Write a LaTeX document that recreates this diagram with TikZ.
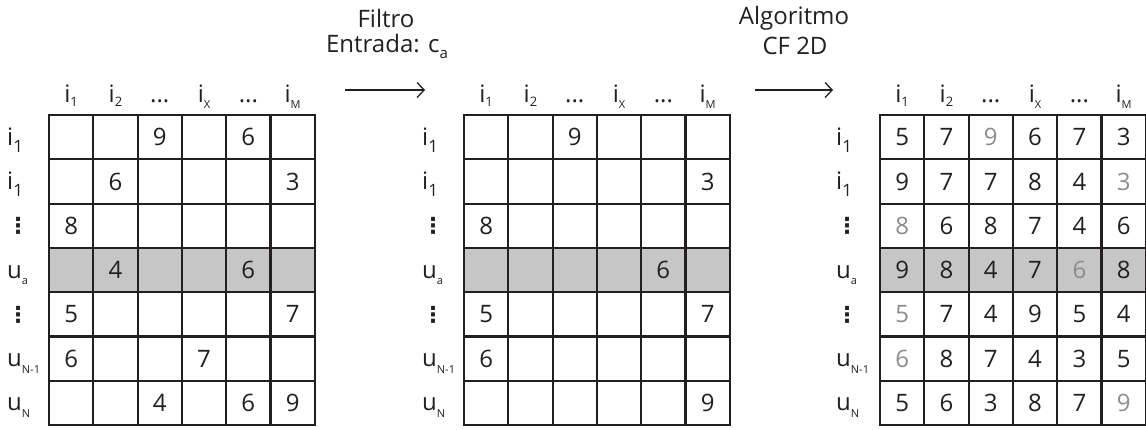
\documentclass[tikz,border=0pt]{standalone}
\usepackage{fontspec}
\setmainfont{Open Sans}
\newfontfamily\symf{DejaVu Sans}
\usetikzlibrary{arrows.meta}
\newcommand{\rsub}[1]{\raisebox{-0.3em}{\fontsize{17}{17}\selectfont #1}}
\newcommand{\lsub}[1]{\raisebox{-0.2em}{\fontsize{13}{13}\selectfont #1}}
\newcommand{\ssub}[1]{\raisebox{-0.28em}{\fontsize{11}{11}\selectfont #1}}
\newcommand{\vdts}{{\symf\bfseries\fontsize{22}{22}\selectfont ⋮}}
\definecolor{gridc}{HTML}{231F20}
\definecolor{rowfill}{HTML}{C6C6C6}
\definecolor{softnum}{HTML}{8C8C8C}
\tikzset{
  every node/.style={font=\fontsize{24}{28}\selectfont, text=gridc},
  cell/.style={draw=gridc, line width=2.2pt, minimum width=44.3pt, minimum height=44.3pt, inner sep=0pt, anchor=center},
  hl/.style={fill=rowfill},
  soft/.style={text=softnum},
  lbl/.style={anchor=base west, inner sep=0pt},
  hdr/.style={anchor=base, inner sep=0pt},
  flow/.style={draw=gridc, line width=1.3pt, -{Straight Barb[length=7pt,width=15pt,line width=1.3pt]}},
  captext/.style={anchor=center, inner sep=0pt}
}
\begin{document}
\begin{tikzpicture}[x=1pt,y=-1pt]
\useasboundingbox (0,0) rectangle (1146,429);
\def\cw{44.3}
% grids: name / x0
\foreach \g/\xo in {A/49,B/464,C/880}{
  \foreach \r in {1,...,7}{
    \foreach \c in {1,...,6}{
      \pgfmathsetmacro\xc{\xo+(\c-0.5)*\cw}
      \pgfmathsetmacro\yc{115+(\r-0.5)*\cw}
      \ifnum\r=4
        \node[cell,hl] (\g-\r-\c) at (\xc,\yc) {};
      \else
        \node[cell] (\g-\r-\c) at (\xc,\yc) {};
      \fi
    }
  }
  % column headers
  \foreach \c/\t in {1/{i\lsub{1}},2/{i\lsub{2}},3/{...},4/{i\ssub{X}},5/{...},6/{i\ssub{M}}}{
    \pgfmathsetmacro\xc{\xo+(\c-0.5)*\cw}
    \node[hdr] (\g-h\c) at (\xc,102) {\t};
  }
}
% row labels
\foreach \g/\xo in {A/7,B/422,C/836}{
  \foreach \r/\t in {1/{i\rsub{1}},2/{i\rsub{1}},3/{\vdts},4/{u\ssub{a}},5/{\vdts},6/{u\ssub{N-1}},7/{u\ssub{N}}}{
    \pgfmathsetmacro\yc{115+(\r-0.5)*\cw+8}
    \node[lbl] (\g-l\r) at (\xo,\yc) {\t};
  }
}
% values grid A
\foreach \r/\c/\v in {1/3/9,1/5/6,2/2/6,2/6/3,3/1/8,4/2/4,4/5/6,5/1/5,5/6/7,6/1/6,6/4/7,7/3/4,7/5/6,7/6/9}{
  \node at (A-\r-\c) {\v};
}
% values grid B
\foreach \r/\c/\v in {1/3/9,2/6/3,3/1/8,4/5/6,5/1/5,5/6/7,6/1/6,7/6/9}{
  \node at (B-\r-\c) {\v};
}
% values grid C
\foreach \r/\c/\v in {1/1/5,1/2/7,1/4/6,1/5/7,1/6/3,
  2/1/9,2/2/7,2/3/7,2/4/8,2/5/4,
  3/2/6,3/3/8,3/4/7,3/5/4,3/6/6,
  4/1/9,4/2/8,4/3/4,4/4/7,4/6/8,
  5/2/7,5/3/4,5/4/9,5/5/5,5/6/4,
  6/2/8,6/3/7,6/4/4,6/5/3,6/6/5,
  7/1/5,7/2/6,7/3/3,7/4/8,7/5/7}{
  \node at (C-\r-\c) {\v};
}
\foreach \r/\c/\v in {1/3/9,2/6/3,3/1/8,4/5/6,5/1/5,6/1/6,7/6/9}{
  \node[soft] at (C-\r-\c) {\v};
}
% arrows and captions
\coordinate (a1s) at (345,90);
\coordinate (a1e) at (425,90);
\coordinate (a2s) at (755,90);
\coordinate (a2e) at (833,90);
\draw[flow] (a1s) -- (a1e);
\draw[flow] (a2s) -- (a2e);
\node[captext] (f1) at (386,18) {Filtro};
\node[captext] (f2) at (387,46) {Entrada: c\raisebox{-0.25em}{\fontsize{15}{15}\selectfont a}};
\node[captext] (g1) at (794,18) {Algoritmo};
\node[captext] (g2) at (795,46) {CF 2D};
\end{tikzpicture}
\end{document}
